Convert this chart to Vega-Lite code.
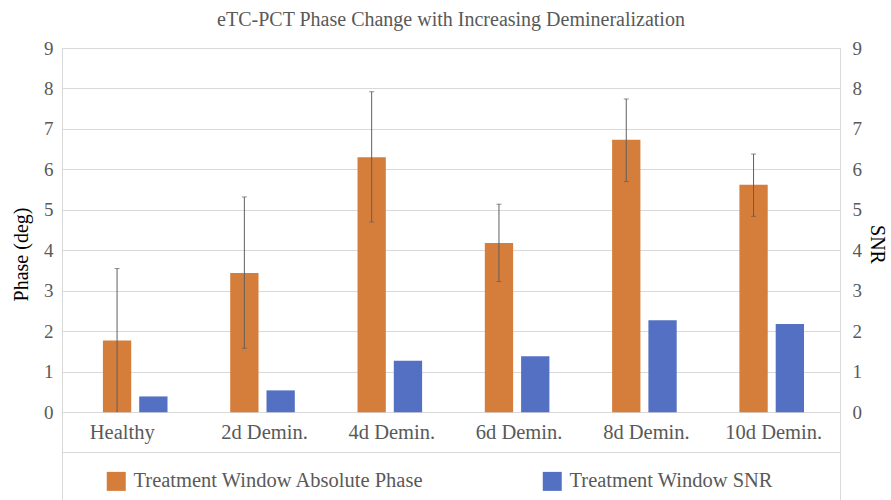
{
  "$schema": "https://vega.github.io/schema/vega-lite/v6.json",
  "autosize": {"type": "none"},
  "padding": {"left": 62, "top": 48, "right": 51, "bottom": 0},
  "width": 778,
  "height": 452,
  "background": "white",
  "config": {
    "font": "Liberation Serif",
    "view": {"stroke": "#d9d9d9", "strokeWidth": 1},
    "axis": {"labelFont": "Liberation Serif", "titleFont": "Liberation Serif", "titleFontWeight": "normal"}
  },
  "title": {
    "text": "eTC-PCT Phase Change with Increasing Demineralization",
    "font": "Liberation Serif",
    "fontSize": 20,
    "fontWeight": "normal",
    "color": "#595959",
    "anchor": "middle",
    "frame": "group",
    "offset": 9
  },
  "data": {
    "values": [
      {"cat": "Healthy", "phase": 1.77, "lo": 0.0, "hi": 3.55, "snr": 0.39},
      {"cat": "2d Demin.", "phase": 3.44, "lo": 1.58, "hi": 5.32, "snr": 0.54},
      {"cat": "4d Demin.", "phase": 6.30, "lo": 4.70, "hi": 7.92, "snr": 1.27},
      {"cat": "6d Demin.", "phase": 4.18, "lo": 3.23, "hi": 5.14, "snr": 1.38},
      {"cat": "8d Demin.", "phase": 6.73, "lo": 5.70, "hi": 7.74, "snr": 2.27},
      {"cat": "10d Demin.", "phase": 5.62, "lo": 4.84, "hi": 6.38, "snr": 2.18}
    ]
  },
  "layer": [
    {
      "encoding": {
        "x": {
          "field": "cat", "type": "nominal", "sort": null,
          "scale": {"paddingInner": 0, "paddingOuter": 0.0558, "align": 0.673},
          "axis": {
            "orient": "bottom", "title": null, "domain": false, "ticks": false, "tickSize": 0,
            "offset": -88, "labelPadding": 26, "labelBaseline": "alphabetic",
            "labelFontSize": 20.5, "labelColor": "#595959", "labelAngle": 0, "grid": false,
            "labelOffset": {"condition": {"test": "datum.value === 'Healthy'", "value": -13}, "value": 2}
          }
        },
        "xOffset": {"datum": "A", "scale": {"domain": ["A", "B"], "paddingInner": 0.22, "paddingOuter": 0.864}}
      },
      "layer": [
        {
          "mark": {"type": "bar"},
          "encoding": {
            "y": {
              "field": "phase", "type": "quantitative", "title": "Phase (deg)",
              "scale": {"domain": [-2.169, 9], "nice": false, "zero": false},
              "axis": {
                "orient": "left", "title": "Phase (deg)", "values": [0, 1, 2, 3, 4, 5, 6, 7, 8, 9],
                "domain": false, "ticks": false, "grid": true, "gridColor": "#d9d9d9", "gridWidth": 1,
                "labelFontSize": 19, "labelColor": "#595959", "labelPadding": 9,
                "titleFontSize": 20, "titleColor": "#000000", "titleAngle": 270,
                "titleX": -41, "titleY": 206, "titleAlign": "center", "titleBaseline": "middle"
              }
            },
            "y2": {"datum": 0},
            "color": {
              "datum": "Treatment Window Absolute Phase",
              "scale": {"domain": ["Treatment Window Absolute Phase", "Treatment Window SNR"], "range": ["#D57D3B", "#5470C3"]},
              "legend": {
                "orient": "none", "legendX": 44, "legendY": 423, "direction": "horizontal", "columns": 2,
                "columnPadding": 117, "title": null, "padding": 0,
                "symbolType": "square", "symbolSize": 361, "symbolStrokeWidth": 0,
                "labelFontSize": 20.5, "labelColor": "#595959", "labelOffset": 7, "labelLimit": 500,
                "labelFont": "Liberation Serif"
              }
            }
          }
        },
        {
          "mark": {"type": "rule", "color": "#5f5f5f", "strokeWidth": 1},
          "encoding": {
            "y": {
              "field": "lo", "type": "quantitative", "title": "Phase (deg)",
              "scale": {"domain": [-2.169, 9], "nice": false, "zero": false},
              "axis": {
                "orient": "left", "title": "Phase (deg)", "values": [0, 1, 2, 3, 4, 5, 6, 7, 8, 9],
                "domain": false, "ticks": false, "grid": true, "gridColor": "#d9d9d9", "gridWidth": 1,
                "labelFontSize": 19, "labelColor": "#595959", "labelPadding": 9,
                "titleFontSize": 20, "titleColor": "#000000", "titleAngle": 270,
                "titleX": -41, "titleY": 206, "titleAlign": "center", "titleBaseline": "middle"
              }
            },
            "y2": {"field": "hi"}
          }
        },
        {
          "mark": {"type": "tick", "orient": "horizontal", "color": "#5f5f5f", "size": 5, "thickness": 1},
          "encoding": {
            "y": {
              "field": "hi", "type": "quantitative", "title": "Phase (deg)",
              "scale": {"domain": [-2.169, 9], "nice": false, "zero": false},
              "axis": {
                "orient": "left", "title": "Phase (deg)", "values": [0, 1, 2, 3, 4, 5, 6, 7, 8, 9],
                "domain": false, "ticks": false, "grid": true, "gridColor": "#d9d9d9", "gridWidth": 1,
                "labelFontSize": 19, "labelColor": "#595959", "labelPadding": 9,
                "titleFontSize": 20, "titleColor": "#000000", "titleAngle": 270,
                "titleX": -41, "titleY": 206, "titleAlign": "center", "titleBaseline": "middle"
              }
            }
          }
        },
        {
          "transform": [{"filter": "datum.lo > 0"}],
          "mark": {"type": "tick", "orient": "horizontal", "color": "#5f5f5f", "size": 5, "thickness": 1},
          "encoding": {
            "y": {
              "field": "lo", "type": "quantitative", "title": "Phase (deg)",
              "scale": {"domain": [-2.169, 9], "nice": false, "zero": false},
              "axis": {
                "orient": "left", "title": "Phase (deg)", "values": [0, 1, 2, 3, 4, 5, 6, 7, 8, 9],
                "domain": false, "ticks": false, "grid": true, "gridColor": "#d9d9d9", "gridWidth": 1,
                "labelFontSize": 19, "labelColor": "#595959", "labelPadding": 9,
                "titleFontSize": 20, "titleColor": "#000000", "titleAngle": 270,
                "titleX": -41, "titleY": 206, "titleAlign": "center", "titleBaseline": "middle"
              }
            }
          }
        }
      ]
    },
    {
      "mark": {"type": "bar"},
      "encoding": {
        "x": {
          "field": "cat", "type": "nominal", "sort": null,
          "axis": {
            "orient": "bottom", "title": null, "domain": true, "domainColor": "#d9d9d9", "domainWidth": 1,
            "ticks": false, "labels": false, "grid": false, "offset": -48
          }
        },
        "xOffset": {"datum": "B"},
        "y": {
          "field": "snr", "type": "quantitative",
          "scale": {"domain": [-2.169, 9], "nice": false, "zero": false},
          "axis": {
            "orient": "right", "title": "SNR", "values": [0, 1, 2, 3, 4, 5, 6, 7, 8, 9],
            "domain": false, "ticks": false, "grid": false,
            "labelFontSize": 19, "labelColor": "#595959", "labelPadding": 12,
            "titleFontSize": 20, "titleColor": "#000000", "titleAngle": 90,
            "titleX": 36, "titleY": 196, "titleAlign": "center", "titleBaseline": "middle"
          }
        },
        "y2": {"datum": 0},
        "color": {"datum": "Treatment Window SNR"}
      }
    }
  ],
  "resolve": {"scale": {"y": "independent"}, "axis": {"x": "independent"}}
}
